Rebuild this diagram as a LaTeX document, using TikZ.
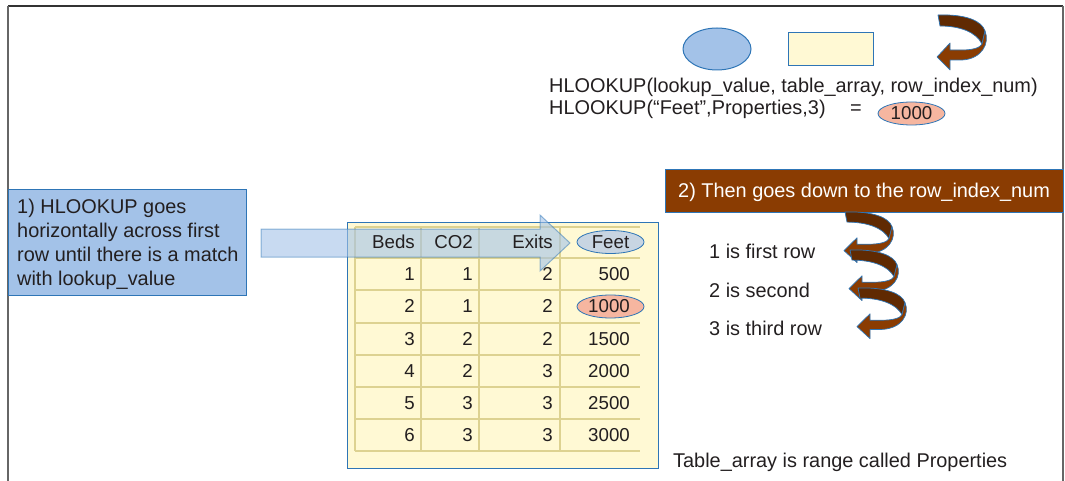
\documentclass[tikz,border=0pt]{standalone}
\usepackage{fontspec}
\setmainfont{Liberation Sans}
\usetikzlibrary{shapes.geometric}
\definecolor{edgeblue}{RGB}{46,117,182}
\definecolor{stepblue}{RGB}{163,194,232}
\definecolor{paleyellow}{RGB}{255,249,212}
\definecolor{gridtan}{RGB}{221,210,145}
\definecolor{rustbrown}{RGB}{138,60,2}
\definecolor{darkbrown}{RGB}{96,42,2}
\definecolor{salmon}{RGB}{246,182,160}
\definecolor{feetgray}{RGB}{200,213,226}
\definecolor{inkgray}{RGB}{35,31,32}
\newcommand{\body}{\fontsize{19.9}{24}\selectfont}
\newcommand{\cellfont}{\fontsize{18.7}{22}\selectfont}
\newcommand{\curlarrow}[2][]{%
  \begin{scope}[shift={#2}, #1]
    \filldraw[curl back] (0,0) .. controls (28,-1) and (44,6) .. (47,16) -- (44,29) .. controls (38,17) and (22,11) .. (2,11) -- cycle;
    \filldraw[curl front] (47,16) .. controls (52,28) and (44,44) .. (24,45) -- (12,45) -- (12,55) -- (-1,42) -- (12,28) -- (12,35) -- (24,35) .. controls (34,35) and (42,33) .. (44,29) -- cycle;
  \end{scope}}

\begin{document}
\begin{tikzpicture}[x=1pt, y=-1pt,
    every node/.style={text=inkgray, font=\body, inner sep=0pt},
    keyshape/.style={draw=edgeblue, line width=1pt},
    markell/.style={ellipse, draw=edgeblue, line width=0.8pt, minimum width=67pt, minimum height=23pt, font=\cellfont},
    cell/.style={anchor=east, font=\cellfont},
    curl back/.style={fill=darkbrown, draw=edgeblue, line width=0.7pt, line join=round},
    curl front/.style={fill=rustbrown, draw=edgeblue, line width=0.7pt, line join=round}]
    \useasboundingbox (0,0) rectangle (1065,481);
    \def\rowh{32.2}

    % Draw frame
    \draw[black!80, line width=1.2pt] (8,6) -- (1063,6);
    \draw[black!60, line width=2pt] (8,6) -- (8,481);
    \draw[black!60, line width=2pt] (1063,6) -- (1063,481);

    % Draw legend
    \node[keyshape, ellipse, fill=stepblue, minimum width=68pt, minimum height=42pt] (lookupkey) at (717,49) {};
    \node[keyshape, fill=paleyellow, minimum width=85pt, minimum height=33pt] (tablekey) at (830.5,49.5) {};
    \curlarrow{(938,15)}

    \node[anchor=base west] (syntax) at (549,93) {HLOOKUP(lookup\_value, table\_array, row\_index\_num)};
    \node[anchor=base west] (example) at (549,115) {HLOOKUP(“Feet”,Properties,3)};
    \node[anchor=base] (equals) at (856,115) {=};
    \node[markell, fill=salmon] (result) at (911.5,113.5) {1000};

    % Draw step 1
    \node[keyshape, fill=stepblue, anchor=north west, minimum width=238pt, minimum height=106pt] (stepone) at (8,189) {};
    \node[anchor=north west, align=left] (steponetext) at (17,198.5) {1) HLOOKUP goes\\horizontally across first\\row until there is a match\\with lookup\_value};

    % Draw table
    \draw[keyshape, fill=paleyellow] (347,222) rectangle (658,468);
    \foreach \y in {227,258,290,323,355,387,419,451} {
        \draw[gridtan, line width=1.6pt] (355,\y) -- (640,\y);
    }
    \foreach \x in {355,421,479,560} {
        \draw[gridtan, line width=1.6pt] (\x,227) -- (\x,451);
    }

    % Draw search arrow
    \filldraw[fill=stepblue, draw=edgeblue, fill opacity=0.6, draw opacity=0.5, line width=1pt] (261,229) -- (540,229) -- (540,215) -- (570,243) -- (540,271) -- (540,257) -- (261,257) -- cycle;

    % Draw cells
    \node[cell] (hbeds) at (415,242) {Beds};
    \node[cell] (hco) at (473,242) {CO2};
    \node[cell] (hexits) at (553,242) {Exits};
    \node[markell, fill=feetgray] (hfeet) at (610.5,242) {Feet};
    \node[markell, fill=salmon] (match) at (610.5,306.5) {};
    \foreach \b/\c/\e/\f [count=\r] in {1/1/2/500,2/1/2/1000,3/2/2/1500,4/2/3/2000,5/3/3/2500,6/3/3/3000} {
        \node[cell] (beds\r) at (415,242+\r*\rowh) {\b};
        \node[cell] (co\r) at (473,242+\r*\rowh) {\c};
        \node[cell] (exits\r) at (553,242+\r*\rowh) {\e};
        \node[cell] (feet\r) at (630,242+\r*\rowh) {\f};
    }
    \node[anchor=base west] (tablenote) at (673,467) {Table\_array is range called Properties};

    % Draw step 2
    \node[keyshape, fill=rustbrown, anchor=north west, minimum width=398pt, minimum height=43pt] (steptwo) at (665,169) {};
    \node[anchor=base west, text=white] (steptwotext) at (678,197) {2) Then goes down to the row\_index\_num};

    \curlarrow[yscale=0.92]{(845,212)}
    \curlarrow[yscale=0.92]{(850,250)}
    \curlarrow[yscale=0.92]{(858,288)}

    \node[anchor=base west] (rowone) at (709,258) {1 is first row};
    \node[anchor=base west] (rowtwo) at (709,297) {2 is second};
    \node[anchor=base west] (rowthree) at (709,335) {3 is third row};
\end{tikzpicture}
\end{document}
